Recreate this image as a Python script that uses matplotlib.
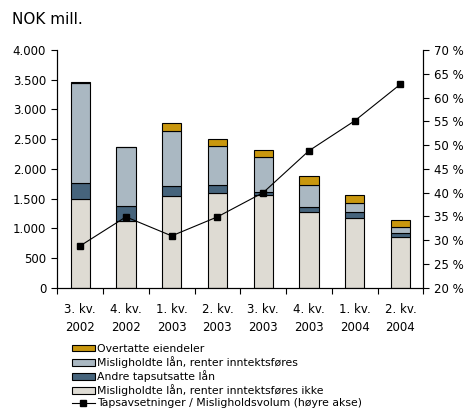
import matplotlib
matplotlib.use("Agg")
import matplotlib.pyplot as plt
from matplotlib.patches import Patch
from matplotlib.lines import Line2D
from matplotlib.ticker import FuncFormatter, MultipleLocator
import numpy as np

categories = ["3. kv.\n2002", "4. kv.\n2002", "1. kv.\n2003", "2. kv.\n2003",
              "3. kv.\n2003", "4. kv.\n2003", "1. kv.\n2004", "2. kv.\n2004"]
mislig_ikke = [1500, 1130, 1540, 1600, 1555, 1270, 1170, 850]
andre = [270, 250, 170, 120, 55, 90, 100, 70]
mislig_renter = [1670, 980, 920, 660, 595, 365, 150, 95]
overtatte = [15, 15, 135, 115, 110, 160, 145, 125]
ratio = [28.8, 34.9, 30.9, 34.9, 40.0, 48.8, 55.1, 62.8]

labels = ["Overtatte eiendeler", "Misligholdte lån, renter inntektsføres",
          "Andre tapsutsatte lån", "Misligholdte lån, renter inntektsføres ikke",
          "Tapsavsetninger / Misligholdsvolum (høyre akse)"]
colors = {"gold": "#C9970E", "light": "#AAB8C2", "dark": "#46647C", "beige": "#DEDBD3"}

plt.rcParams['font.family'] = ['DejaVu Sans']
fig = plt.figure(figsize=(4.66, 4.08), dpi=100)
W, H = 466, 408
ax = fig.add_axes([57.3 / W, 1 - 287.7 / H, (423.3 - 57.3) / W, (287.7 - 50) / H])
x = np.arange(len(categories))
bw = 0.42
ek = dict(edgecolor="black", linewidth=0.8, width=bw)
ax.bar(x, mislig_ikke, color=colors["beige"], **ek)
bot = np.array(mislig_ikke, dtype=float)
ax.bar(x, andre, bottom=bot, color=colors["dark"], **ek)
bot += andre
ax.bar(x, mislig_renter, bottom=bot, color=colors["light"], **ek)
bot += mislig_renter
ax.bar(x, overtatte, bottom=bot, color=colors["gold"], **ek)

ax.set_xlim(-0.5, len(categories) - 0.5)
ax.set_ylim(0, 4000)
ax.yaxis.set_major_locator(MultipleLocator(500))
ax.yaxis.set_major_formatter(FuncFormatter(lambda v, p: f"{int(v):,}".replace(",", ".")))
ax.set_xticks(x)
ax.set_xticklabels(categories, fontsize=8.5, linespacing=1.5)
ax.tick_params(axis="x", which="major", length=0, pad=11)
ax.set_xticks(np.arange(-0.5, len(categories)), minor=True)
ax.tick_params(axis="x", which="minor", length=4, direction="out", width=0.8)
ax.tick_params(axis="y", labelsize=8.5, length=4, width=0.8, pad=4)
ax.spines["top"].set_visible(False)
for s in ["left", "bottom", "right"]:
    ax.spines[s].set_linewidth(0.8)

ax2 = ax.twinx()
ax2.plot(x, ratio, color="black", linewidth=0.8, marker="s", markersize=5)
ax2.set_ylim(20, 70)
ax2.yaxis.set_major_locator(MultipleLocator(5))
ax2.yaxis.set_major_formatter(FuncFormatter(lambda v, p: f"{int(round(v))} %"))
ax2.tick_params(axis="y", labelsize=8.5, length=4, width=0.8, pad=4)
ax2.spines["top"].set_visible(False)
ax2.spines["right"].set_linewidth(0.8)

fig.text(12 / W, 1 - 20 / H, "NOK mill.", fontsize=11, va="center", ha="left")

handles = [Patch(facecolor=colors["gold"], edgecolor="black", linewidth=0.8),
           Patch(facecolor=colors["light"], edgecolor="black", linewidth=0.8),
           Patch(facecolor=colors["dark"], edgecolor="black", linewidth=0.8),
           Patch(facecolor=colors["beige"], edgecolor="black", linewidth=0.8),
           Line2D([0], [0], color="black", linewidth=0.8, marker="s", markersize=4)]
leg = fig.legend(handles, labels, loc="upper left", bbox_to_anchor=(71.5 / W, 1 - 344 / H),
                 frameon=False, fontsize=7.8, handlelength=2.2, handleheight=0.55,
                 handletextpad=0.12, labelspacing=0.2, borderpad=0, borderaxespad=0)

fig.savefig("out.png", dpi=100)
